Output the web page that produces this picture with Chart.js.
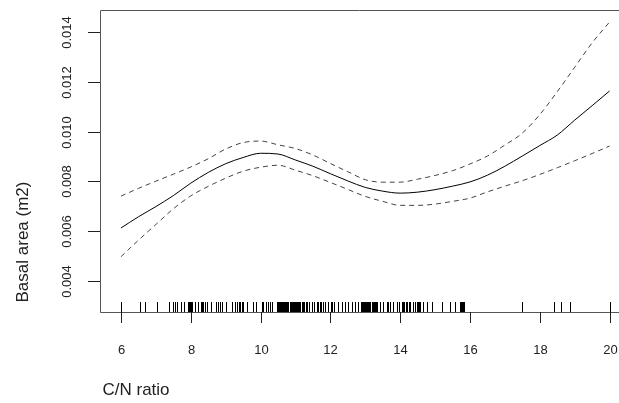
<!DOCTYPE html>
<html lang="en">
  <head>
    <meta charset="UTF-8" />
    <title>Basal area vs C/N ratio</title>
    <script src="https://cdn.jsdelivr.net/npm/chart.js"></script>
    <style>
      html, body { margin: 0; padding: 0; background: #fff; overflow: hidden; }
      #chart { display: block; }
    </style>
  </head>
  <body>
    <canvas id="chart" width="619" height="403"></canvas>
    <script>
      // smooth fit and its confidence band
      const cnRatio = [6, 6.5, 7, 7.5, 8, 8.5, 9, 9.5, 10, 10.5, 11, 11.5, 12, 12.5, 13,
        13.5, 14, 14.5, 15, 15.5, 16, 16.5, 17, 17.5, 18, 18.5, 19, 19.5, 20];
      const fitted = [0.00613, 0.00658, 0.00699, 0.00743, 0.00793, 0.00836, 0.00871, 0.00896,
        0.00913, 0.00910, 0.00886, 0.00861, 0.00831, 0.00802, 0.00776, 0.00761, 0.00753,
        0.00757, 0.00767, 0.00781, 0.00798, 0.00825, 0.00861, 0.00902, 0.00944, 0.00986,
        0.01046, 0.01104, 0.01163];
      const upperCI = [0.00741, 0.00772, 0.00801, 0.00829, 0.00858, 0.00891, 0.00930, 0.00956,
        0.00962, 0.00947, 0.00932, 0.00906, 0.00872, 0.00839, 0.00807, 0.00797, 0.00797,
        0.00809, 0.00824, 0.00843, 0.00870, 0.00902, 0.00946, 0.00994, 0.01068, 0.01160,
        0.01258, 0.01356, 0.01440];
      const lowerCI = [0.00498, 0.00564, 0.00627, 0.00690, 0.00742, 0.00780, 0.00813, 0.00841,
        0.00857, 0.00865, 0.00845, 0.00823, 0.00796, 0.00768, 0.00740, 0.00720, 0.00704,
        0.00704, 0.00709, 0.00720, 0.00733, 0.00758, 0.00781, 0.00803, 0.00828, 0.00855,
        0.00883, 0.00912, 0.00942];

      // observed C/N values for the rug
      const rugCN = [6.0, 6.54, 6.69, 7.02, 7.38, 7.48, 7.56, 7.62, 7.71, 7.81, 7.92, 7.95, 7.98,
        8.0, 8.05, 8.13, 8.21, 8.28, 8.32, 8.36, 8.41, 8.47, 8.57, 8.72, 8.79, 8.84, 8.90, 9.0,
        9.17, 9.27, 9.32, 9.37, 9.41, 9.46, 9.50, 9.60, 9.79, 9.86, 10.03, 10.08, 10.15, 10.22,
        10.27, 10.32, 10.46, 10.49, 10.52, 10.55, 10.58, 10.61, 10.64, 10.67, 10.70, 10.73,
        10.76, 10.80, 10.83, 10.86, 10.89, 10.92, 10.95, 10.98, 11.01, 11.05, 11.08, 11.11,
        11.14, 11.18, 11.21, 11.25, 11.29, 11.32, 11.39, 11.46, 11.54, 11.61, 11.64, 11.69,
        11.73, 11.79, 11.85, 11.93, 12.02, 12.06, 12.10, 12.22, 12.32, 12.42, 12.51, 12.61,
        12.71, 12.80, 12.88, 12.90, 12.93, 12.96, 12.99, 13.02, 13.05, 13.08, 13.11, 13.15,
        13.18, 13.21, 13.24, 13.27, 13.30, 13.33, 13.42, 13.52, 13.61, 13.65, 13.71, 13.80,
        13.90, 13.97, 14.04, 14.08, 14.12, 14.17, 14.21, 14.25, 14.28, 14.38, 14.42, 14.47,
        14.51, 14.54, 14.57, 14.66, 14.76, 14.90, 15.19, 15.43, 15.57, 15.71, 15.74, 15.77,
        15.80, 15.83, 17.48, 18.42, 18.60, 18.87, 20.0];

      const xTicks = [6, 8, 10, 12, 14, 16, 18, 20];
      const yTicks = [0.004, 0.006, 0.008, 0.010, 0.012, 0.014];
      const yTickLabels = ["0.004", "0.006", "0.008", "0.010", "0.012", "0.014"];

      const FONT = "Liberation Sans, Arial, sans-serif";

      const toPoints = (ys) => cnRatio.map((x, i) => ({ x: x, y: ys[i] }));

      // R-style box, axes, rug and titles
      const rStyleAxes = {
        id: "rStyleAxes",
        afterDraw(chart) {
          const { ctx, chartArea: a } = chart;
          const xs = chart.scales.x;
          const ys = chart.scales.y;
          ctx.save();

          // box (right side is off the page)
          ctx.strokeStyle = "#555";
          ctx.lineWidth = 1;
          ctx.beginPath();
          ctx.moveTo(chart.width, a.top + 0.5);
          ctx.lineTo(a.left + 0.5, a.top + 0.5);
          ctx.lineTo(a.left + 0.5, a.bottom + 0.5);
          ctx.lineTo(chart.width, a.bottom + 0.5);
          ctx.stroke();

          // rug
          ctx.strokeStyle = "#000";
          ctx.beginPath();
          rugCN.forEach((v) => {
            const px = Math.round(xs.getPixelForValue(v)) + 0.5;
            ctx.moveTo(px, a.bottom - 10);
            ctx.lineTo(px, a.bottom);
          });
          ctx.stroke();

          // x axis
          ctx.strokeStyle = "#222";
          ctx.fillStyle = "#222";
          ctx.font = "13px " + FONT;
          ctx.textAlign = "center";
          ctx.textBaseline = "middle";
          xTicks.forEach((v) => {
            const px = Math.round(xs.getPixelForValue(v)) + 0.5;
            ctx.beginPath();
            ctx.moveTo(px, a.bottom);
            ctx.lineTo(px, a.bottom + 11);
            ctx.stroke();
            ctx.fillText(String(v), px, a.bottom + 38);
          });

          // y axis
          yTicks.forEach((v, i) => {
            const py = Math.round(ys.getPixelForValue(v)) + 0.5;
            ctx.beginPath();
            ctx.moveTo(a.left - 12, py);
            ctx.lineTo(a.left, py);
            ctx.stroke();
            ctx.save();
            ctx.translate(a.left - 33, py);
            ctx.rotate(-Math.PI / 2);
            ctx.fillText(yTickLabels[i], 0, 0);
            ctx.restore();
          });

          // titles
          ctx.font = "17px " + FONT;
          ctx.fillText("C/N ratio", 136, 390);
          ctx.save();
          ctx.translate(23, 242);
          ctx.rotate(-Math.PI / 2);
          ctx.fillText("Basal area (m2)", 0, 0);
          ctx.restore();

          ctx.restore();
        },
      };

      new Chart(document.getElementById("chart"), {
        type: "line",
        data: {
          datasets: [
            {
              label: "Fit",
              data: toPoints(fitted),
              borderColor: "#000",
              borderWidth: 1,
            },
            {
              label: "Upper",
              data: toPoints(upperCI),
              borderColor: "#444",
              borderWidth: 1,
              borderDash: [5, 4],
            },
            {
              label: "Lower",
              data: toPoints(lowerCI),
              borderColor: "#444",
              borderWidth: 1,
              borderDash: [5, 4],
            },
          ],
        },
        options: {
          responsive: false,
          animation: false,
          layout: { padding: { left: 100, top: 10, right: 0, bottom: 91 } },
          elements: {
            point: { radius: 0 },
            line: { cubicInterpolationMode: "monotone", fill: false },
          },
          scales: {
            x: { type: "linear", min: 5.4, max: 20.27, display: false },
            y: { type: "linear", min: 0.00276, max: 0.01488, display: false },
          },
          plugins: {
            legend: { display: false },
            tooltip: { enabled: false },
          },
        },
        plugins: [rStyleAxes],
      });
    </script>
  </body>
</html>
